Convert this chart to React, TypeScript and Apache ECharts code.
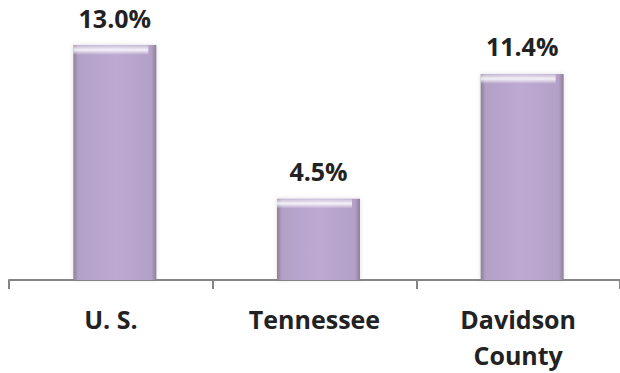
import React, { useEffect, useRef } from "react";
import * as echarts from "echarts";

const categories = ["U. S.", "Tennessee", "Davidson\nCounty"];
const values = [13.0, 4.5, 11.4];
const valueLabels = ["13.0%", "4.5%", "11.4%"];

export default function App() {
  const ref = useRef<HTMLDivElement>(null);
  useEffect(() => {
    if (!ref.current) return;
    const chart = echarts.init(ref.current, undefined, { renderer: "svg" });
    const font = "'Open Sans', 'Noto Sans', sans-serif";
    const pxPerUnit = 238 / 13;
    chart.setOption({
      animation: false,
      backgroundColor: "#ffffff",
      grid: { left: 9, right: -4, top: 45, bottom: 90, containLabel: false },
      xAxis: {
        type: "category",
        data: categories,
        axisLine: { show: true, lineStyle: { color: "#858585", width: 2 } },
        axisTick: { show: true, length: 9, lineStyle: { color: "#858585", width: 2 } },
        axisLabel: {
          color: "#222222",
          fontFamily: font,
          fontWeight: "bold",
          fontSize: 25,
          lineHeight: 36,
          margin: 21,
          interval: 0,
        },
      },
      yAxis: { type: "value", min: 0, max: 13, show: false, splitLine: { show: false } },
      series: [
        {
          type: "bar",
          data: values,
          barWidth: 83,
          itemStyle: {
            color: new echarts.graphic.LinearGradient(0, 0, 1, 0, [
              { offset: 0, color: "#8c8096" },
              { offset: 0.06, color: "#b3a0c6" },
              { offset: 0.5, color: "#bda9d3" },
              { offset: 0.94, color: "#b3a0c6" },
              { offset: 1, color: "#8c8096" },
            ]),
            shadowColor: "rgba(120,110,130,0.25)",
            shadowBlur: 4,
          },
          label: {
            show: true,
            position: "top",
            distance: 15,
            formatter: (p: any) => valueLabels[p.dataIndex],
            color: "#222222",
            fontFamily: font,
            fontWeight: "bold",
            fontSize: 25,
          },
          z: 2,
        },
        {
          type: "bar",
          data: values,
          barWidth: 75,
          barGap: "-100%",
          silent: true,
          itemStyle: {
            color: (p: any) => {
              const h = (p.value as number) * pxPerUnit;
              const f = 10 / h;
              return new echarts.graphic.LinearGradient(0, 0, 0, 1, [
                { offset: 0, color: "rgba(255,255,255,0.2)" },
                { offset: f * 0.5, color: "rgba(255,255,255,0.85)" },
                { offset: f, color: "rgba(255,255,255,0)" },
                { offset: 1, color: "rgba(255,255,255,0)" },
              ]);
            },
          },
          z: 3,
        },
      ],
    });
    return () => chart.dispose();
  }, []);
  return (
    <div
      ref={ref}
      style={{ position: "absolute", left: 0, top: 0, width: 620, height: 373 }}
    />
  );
}
